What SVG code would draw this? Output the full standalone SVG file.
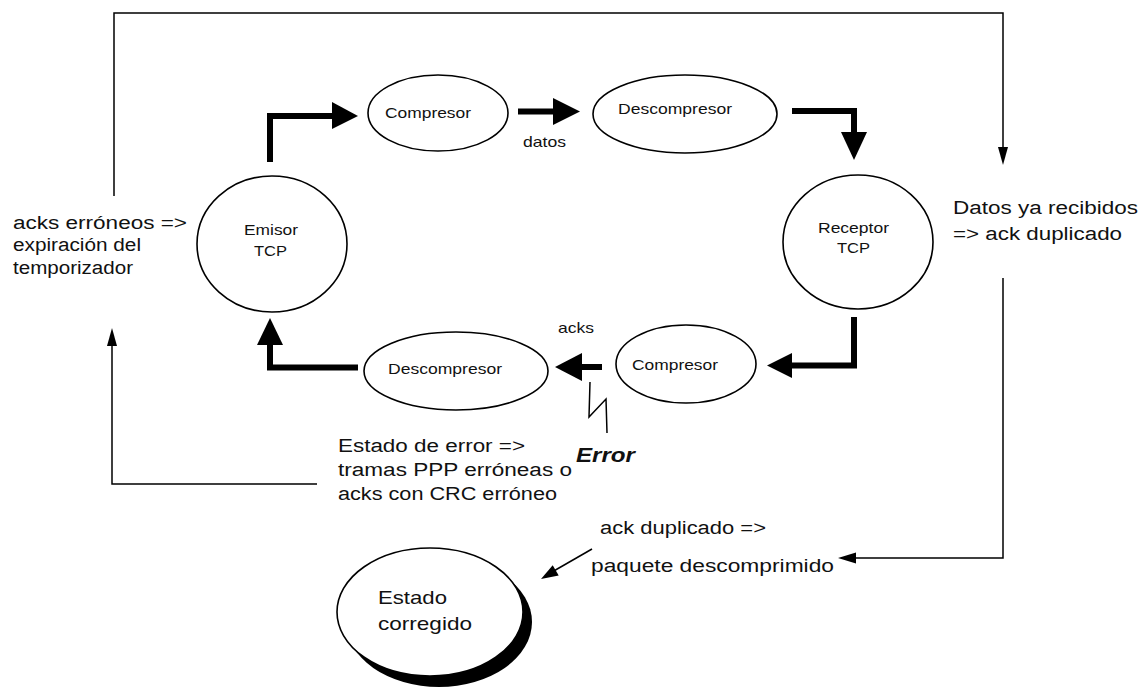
<svg xmlns="http://www.w3.org/2000/svg" width="1147" height="687" viewBox="0 0 1147 687">
  <style>
    .node { fill: #ffffff; stroke: #000000; stroke-width: 1.6; }
    .lbl { font-family: "Liberation Sans", Arial, sans-serif; fill: #111111; }
    .sm { font-size: 15px; }
    .big { font-size: 18px; }
    .thick { fill: none; stroke: #000000; stroke-width: 6; stroke-linejoin: miter; }
    .thin { fill: none; stroke: #000000; stroke-width: 1.5; }
    .head { fill: #000000; stroke: none; }
  </style>

  <rect width="1147" height="687" fill="#ffffff"/>

  <!-- connectors -->
  <g id="connectors">
    <!-- data path -->
    <polyline class="thick" points="270,162 270,116 334,116"/>
    <polygon class="head" points="332,102 358,116 332,129"/>
    <line class="thick" x1="518" y1="111.5" x2="556" y2="111.5"/>
    <polygon class="head" points="553,98 580,111.5 553,125"/>
    <polyline class="thick" points="792,111 854,111 854,134"/>
    <polygon class="head" points="841,132 867,132 854,160"/>
    <!-- ack path -->
    <polyline class="thick" points="854,317 854,365.5 790,365.5"/>
    <polygon class="head" points="792,353 767,365.5 792,378"/>
    <line class="thick" x1="602" y1="367" x2="580" y2="367"/>
    <polygon class="head" points="582,353 555,367 582,381"/>
    <polyline class="thick" points="358,367.5 270,367.5 270,343"/>
    <polygon class="head" points="257,345 270,318 283,345"/>
    <!-- error lightning -->
    <polyline class="thin" points="590,382 589,417 606,399 607,433"/>
    <!-- feedback loops -->
    <polyline class="thin" points="114,196 114,13 1003,13 1003,150"/>
    <polygon class="head" points="998,147 1008,147 1003,165"/>
    <polyline class="thin" points="317,484 112,484 112,342"/>
    <polygon class="head" points="107,346 117,346 112,328"/>
    <polyline class="thin" points="1003,278 1003,558 852,558"/>
    <polygon class="head" points="856,552.5 856,563.5 838,558"/>
    <line class="thin" x1="592" y1="549" x2="552" y2="572"/>
    <polygon class="head" points="558.7,575.6 552.7,565.2 541,579"/>
  </g>

  <g id="emisor">
    <ellipse class="node" cx="272" cy="244" rx="75" ry="68"/>
    <text class="lbl sm" x="244" y="235" textLength="54" lengthAdjust="spacingAndGlyphs">Emisor</text>
    <text class="lbl sm" x="254" y="256" textLength="33" lengthAdjust="spacingAndGlyphs">TCP</text>
  </g>

  <g id="compresor-datos">
    <ellipse class="node" cx="438" cy="113" rx="70" ry="38"/>
    <text class="lbl sm" x="385" y="118" textLength="86" lengthAdjust="spacingAndGlyphs">Compresor</text>
  </g>

  <g id="descompresor-datos">
    <ellipse class="node" cx="685" cy="114" rx="92" ry="39"/>
    <text class="lbl sm" x="618" y="114" textLength="114" lengthAdjust="spacingAndGlyphs">Descompresor</text>
  </g>

  <g id="receptor">
    <ellipse class="node" cx="858" cy="242" rx="75" ry="67"/>
    <text class="lbl sm" x="818" y="233" textLength="71" lengthAdjust="spacingAndGlyphs">Receptor</text>
    <text class="lbl sm" x="837" y="253" textLength="33" lengthAdjust="spacingAndGlyphs">TCP</text>
  </g>

  <g id="compresor-acks">
    <ellipse class="node" cx="686" cy="364" rx="70" ry="39"/>
    <text class="lbl sm" x="632" y="370" textLength="86" lengthAdjust="spacingAndGlyphs">Compresor</text>
  </g>

  <g id="descompresor-acks">
    <ellipse class="node" cx="456" cy="371" rx="92" ry="39"/>
    <text class="lbl sm" x="388" y="374" textLength="114" lengthAdjust="spacingAndGlyphs">Descompresor</text>
  </g>

  <g id="estado-corregido">
    <ellipse cx="439" cy="622" rx="93" ry="65" fill="#000000"/>
    <ellipse class="node" cx="430" cy="612" rx="93" ry="64" stroke-width="1"/>
    <text class="lbl" font-size="19" x="378" y="604" textLength="69" lengthAdjust="spacingAndGlyphs">Estado</text>
    <text class="lbl" font-size="19" x="378" y="630" textLength="94" lengthAdjust="spacingAndGlyphs">corregido</text>
  </g>

  <!-- edge labels and notes -->
  <g id="labels">
    <text class="lbl sm" x="523" y="147" textLength="43" lengthAdjust="spacingAndGlyphs">datos</text>
    <text class="lbl sm" x="558" y="333" textLength="36" lengthAdjust="spacingAndGlyphs">acks</text>
    <text class="lbl" font-size="21" font-weight="bold" font-style="italic" x="576" y="462" textLength="59" lengthAdjust="spacingAndGlyphs">Error</text>

    <text class="lbl big" x="13" y="229" textLength="174" lengthAdjust="spacingAndGlyphs">acks erróneos =&gt;</text>
    <text class="lbl big" x="13" y="251" textLength="128" lengthAdjust="spacingAndGlyphs">expiración del</text>
    <text class="lbl big" x="13" y="274" textLength="120" lengthAdjust="spacingAndGlyphs">temporizador</text>

    <text class="lbl big" x="953" y="214" textLength="185" lengthAdjust="spacingAndGlyphs">Datos ya recibidos</text>
    <text class="lbl big" x="953" y="240" textLength="169" lengthAdjust="spacingAndGlyphs">=&gt; ack duplicado</text>

    <text class="lbl big" x="338" y="452" textLength="187" lengthAdjust="spacingAndGlyphs">Estado de error =&gt;</text>
    <text class="lbl big" x="338" y="476" textLength="234" lengthAdjust="spacingAndGlyphs">tramas PPP erróneas o</text>
    <text class="lbl big" x="338" y="500" textLength="219" lengthAdjust="spacingAndGlyphs">acks con CRC erróneo</text>

    <text class="lbl big" x="600" y="534" textLength="166" lengthAdjust="spacingAndGlyphs">ack duplicado =&gt;</text>
    <text class="lbl big" x="591" y="572" textLength="243" lengthAdjust="spacingAndGlyphs">paquete descomprimido</text>
  </g>
</svg>
